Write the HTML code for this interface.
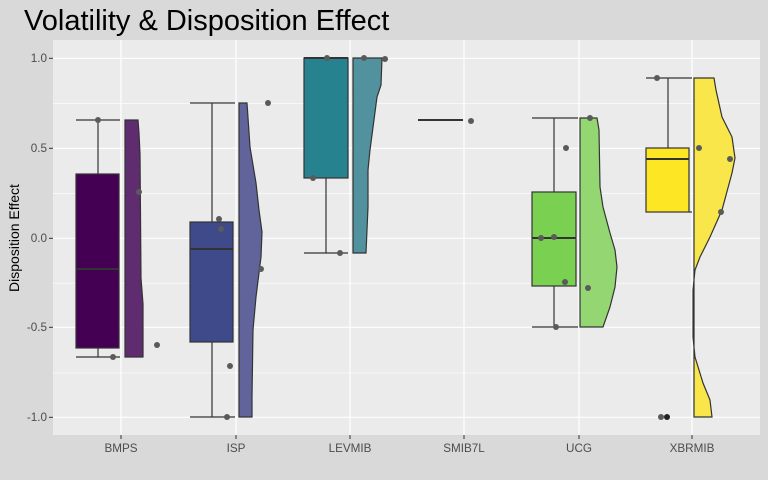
<!DOCTYPE html>
<html><head><meta charset="utf-8"><style>
html,body{margin:0;padding:0;background:#d9d9d9;}
svg{display:block;font-family:"Liberation Sans",sans-serif;}
</style></head><body>
<svg width="768" height="480" viewBox="0 0 768 480">
<rect width="768" height="480" fill="#d9d9d9"/>
<text x="24" y="30" font-size="29" fill="#000">Volatility &amp; Disposition Effect</text>
<rect x="53" y="40" width="707" height="395" fill="#ebebeb"/>
<g stroke="#fff" stroke-width="0.6">
<line x1="53" x2="760" y1="103.7" y2="103.7"/><line x1="53" x2="760" y1="193.4" y2="193.4"/>
<line x1="53" x2="760" y1="283.2" y2="283.2"/><line x1="53" x2="760" y1="372.9" y2="372.9"/>
</g>
<g stroke="#fff" stroke-width="1.2">
<line x1="53" x2="760" y1="58.3" y2="58.3"/><line x1="53" x2="760" y1="148.3" y2="148.3"/>
<line x1="53" x2="760" y1="238.3" y2="238.3"/><line x1="53" x2="760" y1="327.3" y2="327.3"/>
<line x1="53" x2="760" y1="417.3" y2="417.3"/>
<line x1="121" x2="121" y1="40" y2="435"/><line x1="236" x2="236" y1="40" y2="435"/>
<line x1="350" x2="350" y1="40" y2="435"/><line x1="464" x2="464" y1="40" y2="435"/>
<line x1="579" x2="579" y1="40" y2="435"/><line x1="692" x2="692" y1="40" y2="435"/>
</g>
<g font-size="11.7" fill="#4d4d4d" text-anchor="end">
<text x="47" y="62">1.0</text><text x="47" y="152">0.5</text><text x="47" y="242">0.0</text>
<text x="47" y="331">-0.5</text><text x="47" y="421">-1.0</text>
</g>
<g stroke="#333" stroke-width="1">
<line x1="49" x2="53" y1="58.3" y2="58.3"/><line x1="49" x2="53" y1="148.3" y2="148.3"/><line x1="49" x2="53" y1="238.3" y2="238.3"/><line x1="49" x2="53" y1="327.3" y2="327.3"/><line x1="49" x2="53" y1="417.3" y2="417.3"/>
<line x1="121" x2="121" y1="435" y2="439"/><line x1="236" x2="236" y1="435" y2="439"/><line x1="350" x2="350" y1="435" y2="439"/><line x1="464" x2="464" y1="435" y2="439"/><line x1="579" x2="579" y1="435" y2="439"/><line x1="692" x2="692" y1="435" y2="439"/>
</g>
<g font-size="11.7" fill="#4d4d4d" text-anchor="middle">
<text x="121" y="452">BMPS</text><text x="236" y="452">ISP</text><text x="350" y="452">LEVMIB</text>
<text x="464" y="452">SMIB7L</text><text x="579" y="452">UCG</text><text x="692" y="452">XBRMIB</text>
</g>
<text transform="translate(19,238) rotate(-90)" font-size="14" text-anchor="middle" fill="#000">Disposition Effect</text>

<g stroke="#333" stroke-width="1.2">
<line x1="98" x2="98" y1="120" y2="174"/><line x1="98" x2="98" y1="348" y2="357"/>
<line x1="76" x2="120" y1="120" y2="120"/><line x1="76" x2="120" y1="357" y2="357"/>
<rect x="76" y="174" width="43" height="174" fill="#440154"/>
<line x1="76" x2="119" y1="269" y2="269" stroke-width="2"/>
<path d="M125,120 L138,120 L139,133 L140,154 L141,278 L143,304 L143,357 L125,357Z" fill="#5e2c6f"/>
<line x1="212" x2="212" y1="103" y2="222"/><line x1="212" x2="212" y1="342" y2="417"/>
<line x1="190" x2="235" y1="103" y2="103"/><line x1="190" x2="235" y1="417" y2="417"/>
<rect x="190" y="222" width="43" height="120" fill="#3e4a89"/>
<line x1="190" x2="233" y1="249" y2="249" stroke-width="2"/>
<path d="M239,103 L247,103 L250,147 L256,183 L259,210 L262,232 L261,257 L256,297 L253,330 L252,397 L252,417 L239,417Z" fill="#61649a"/>
<line x1="326" x2="326" y1="178" y2="253"/>
<line x1="304" x2="348" y1="253" y2="253"/>
<rect x="304" y="58" width="44" height="120" fill="#26828e"/>
<line x1="304" x2="348" y1="58" y2="58" stroke-width="2"/>
<path d="M353,58 L382,58 L381,85 L377,97 L370,150 L368,170 L368,207 L366,253 L353,253Z" fill="#52929f"/>
<line x1="418" x2="463" y1="120" y2="120" stroke-width="2"/>
<line x1="554" x2="554" y1="118" y2="192"/><line x1="554" x2="554" y1="286" y2="327"/>
<line x1="532" x2="578" y1="118" y2="118"/><line x1="532" x2="578" y1="327" y2="327"/>
<rect x="532" y="192" width="44" height="94" fill="#7ad151"/>
<line x1="532" x2="576" y1="238" y2="238" stroke-width="2"/>
<path d="M580,118 L597,118 L599,130 L600,187 L603,207 L610,233 L615,250 L617,267 L615,287 L610,307 L603,327 L580,327Z" fill="#93d672"/>
<line x1="668" x2="668" y1="78" y2="148"/>
<line x1="646" x2="692" y1="78" y2="78"/><line x1="689" x2="692" y1="212" y2="212"/>
<rect x="646" y="148" width="43" height="64" fill="#fde725"/>
<line x1="646" x2="689" y1="159" y2="159" stroke-width="2"/>
<path d="M694,78 L714,78 L716,90 L722,117 L732,137 L735,158 L732,173 L722,210 L710,237 L700,257 L695,270 L693,290 L693,337 L695,357 L703,383 L710,400 L712,417 L694,417Z" fill="#f8e64a"/>
</g>
<g fill="#5a5a5a">
<circle cx="98" cy="120" r="3"/><circle cx="113" cy="357" r="3"/><circle cx="139" cy="192" r="3"/><circle cx="157" cy="345" r="3"/>
<circle cx="219" cy="219" r="3"/><circle cx="221" cy="229" r="3"/><circle cx="261" cy="269" r="3"/><circle cx="230" cy="366" r="3"/><circle cx="227" cy="417" r="3"/><circle cx="268" cy="103" r="3"/>
<circle cx="313" cy="178" r="3"/><circle cx="327" cy="58" r="3"/><circle cx="340" cy="253" r="3"/><circle cx="364" cy="58" r="3"/><circle cx="385" cy="59" r="3"/>
<circle cx="471" cy="121" r="3"/>
<circle cx="541" cy="238" r="3"/><circle cx="554" cy="237" r="3"/><circle cx="566" cy="148" r="3"/><circle cx="565" cy="282" r="3"/><circle cx="556" cy="327" r="3"/><circle cx="588" cy="288" r="3"/><circle cx="590" cy="118" r="3"/>
<circle cx="699" cy="148" r="3"/><circle cx="730" cy="159" r="3"/><circle cx="721" cy="212" r="3"/><circle cx="657" cy="78" r="3"/><circle cx="661" cy="417" r="3"/>
</g>
<circle cx="667" cy="417" r="3" fill="#222"/>
</svg>
</body></html>
